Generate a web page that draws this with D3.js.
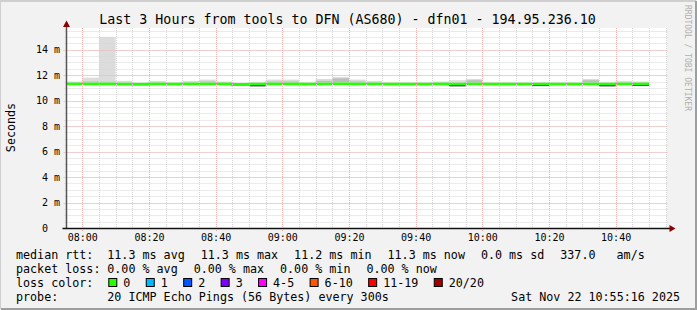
<!DOCTYPE html>
<html>
<head>
<meta charset="utf-8">
<script src="https://cdn.jsdelivr.net/npm/d3@7"></script>
<style>
body { margin: 0; background: #f2f2f2; }
text { font-family: "DejaVu Sans Mono", monospace; fill: #000; }
</style>
</head>
<body>
<div id="chart"></div>
<script>
var W = 697, H = 310;
var plotL = 66.5, plotR = 666.5, plotT = 28, plotB = 228;
var svg, plot, x, y;

var titleText = "Last 3 Hours from tools to DFN (AS680) - dfn01 - 194.95.236.10";
var rangeStart = "2025-11-22 07:55:16", rangeEnd = "2025-11-22 10:55:16";

// start of each 5 minute slot
var slotStart = ["07:55","08:00","08:05","08:10","08:15","08:20","08:25","08:30","08:35","08:40",
  "08:45","08:50","08:55","09:00","09:05","09:10","09:15","09:20","09:25","09:30",
  "09:35","09:40","09:45","09:50","09:55","10:00","10:05","10:10","10:15","10:20",
  "10:25","10:30","10:35","10:40","10:45"];
// median rtt (ms)
var medianRtt = [11.32,11.32,11.32,11.30,11.28,11.32,11.30,11.32,11.32,11.32,
  11.27,11.30,11.32,11.32,11.30,11.32,11.34,11.32,11.32,11.30,
  11.30,11.30,11.32,11.30,11.32,11.30,11.30,11.30,11.30,11.30,
  11.30,11.32,11.30,11.32,11.32];
// top of the smoke (ms)
var maxRtt = [11.50,11.80,15.00,11.55,11.40,11.55,11.40,11.55,11.65,11.50,
  11.38,11.40,11.65,11.65,11.42,11.70,11.85,11.65,11.55,11.40,
  11.40,11.40,11.50,11.60,11.70,11.42,11.40,11.40,11.42,11.40,
  11.40,11.70,11.40,11.55,11.50];
// top of the denser smoke (ms)
var innerRtt = [11.32,11.50,11.48,11.30,11.28,11.32,11.30,11.32,11.50,11.32,
  11.27,11.30,11.50,11.50,11.30,11.55,11.75,11.50,11.32,11.30,
  11.30,11.30,11.32,11.30,11.60,11.30,11.30,11.30,11.30,11.30,
  11.30,11.60,11.30,11.32,11.32];
// bottom of the dark core under the median (ms)
var lowRtt = [11.32,11.32,11.32,11.25,11.28,11.32,11.30,11.32,11.32,11.32,
  11.27,11.12,11.32,11.32,11.30,11.32,11.34,11.32,11.32,11.30,
  11.30,11.30,11.32,11.12,11.32,11.30,11.30,11.30,11.14,11.30,
  11.30,11.32,11.12,11.32,11.16];
// lost pings per slot
var lossCount = [0,0,0,0,0,0,0,0,0,0,0,0,0,0,0,0,0,0,0,0,0,0,0,0,0,0,0,0,0,0,0,0,0,0,0];

var yTicks = [0, 2, 4, 6, 8, 10, 12, 14];
var xTicks = ["08:00","08:20","08:40","09:00","09:20","09:40","10:00","10:20","10:40"];

var lossLabels = ["0","1","2","3","4-5","6-10","11-19","20/20"];
var lossColors = ["#26ff00","#00b8ff","#0059ff","#7e00ff","#ff00ff","#ff5500","#ff0000","#a10000"];

var rttStats = ["11.3 ms avg","11.3 ms max","11.2 ms min","11.3 ms now","0.0 ms sd","337.0   am/s"];
var lossStats = ["0.00 % avg","0.00 % max","0.00 % min","0.00 % now"];
var probeText = "20 ICMP Echo Pings (56 Bytes) every 300s";
var stampText = "Sat Nov 22 10:55:16 2025";

var parseFull = d3.timeParse("%Y-%m-%d %H:%M:%S");
var parseHM = function(s) { return parseFull("2025-11-22 " + s + ":00"); };

function setup() {
  svg = d3.select("#chart").append("svg")
    .attr("width", W).attr("height", H);
  // background and shaded frame
  svg.append("rect").attr("width", W).attr("height", H).attr("fill", "#f2f2f2");
  svg.append("path").attr("d", "M0,309 L0,1 L696,1").attr("fill", "none")
    .attr("stroke", "#cfcfcf").attr("stroke-width", 2);
  svg.append("path").attr("d", "M1,309 L696,309 L696,1").attr("fill", "none")
    .attr("stroke", "#9e9e9e").attr("stroke-width", 2);

  x = d3.scaleTime().domain([parseFull(rangeStart), parseFull(rangeEnd)]).range([plotL, plotR]);
  y = d3.scaleLinear().domain([0, 15.7]).range([plotB, plotT]);

  svg.append("rect").attr("x", plotL).attr("y", plotT)
    .attr("width", plotR - plotL).attr("height", plotB - plotT).attr("fill", "#fff");
  svg.append("clipPath").attr("id", "clip").append("rect")
    .attr("x", plotL).attr("y", plotT).attr("width", plotR - plotL).attr("height", plotB - plotT);
  plot = svg.append("g").attr("clip-path", "url(#clip)");
}

function drawSmoke() {
  var rows = slotStart.map(function(s, i) {
    var t0 = parseHM(s);
    return { x0: x(t0), x1: x(d3.timeMinute.offset(t0, 5)), med: medianRtt[i],
             max: maxRtt[i], inner: innerRtt[i], low: lowRtt[i] };
  });
  plot.selectAll("rect.smoke").data(rows).enter().append("rect")
    .attr("x", function(d) { return d.x0; })
    .attr("width", function(d) { return d.x1 - d.x0; })
    .attr("y", function(d) { return y(d.max); })
    .attr("height", function(d) { return y(d.med) - y(d.max); })
    .attr("fill", "#dcdcdc");
  plot.selectAll("rect.inner").data(rows).enter().append("rect")
    .attr("x", function(d) { return d.x0; })
    .attr("width", function(d) { return d.x1 - d.x0; })
    .attr("y", function(d) { return y(d.inner); })
    .attr("height", function(d) { return Math.max(0, y(d.med) - y(d.inner)); })
    .attr("fill", "#bdbdbd");
  plot.selectAll("rect.core").data(rows).enter().append("rect")
    .attr("x", function(d) { return d.x0; })
    .attr("width", function(d) { return d.x1 - d.x0; })
    .attr("y", function(d) { return y(d.med); })
    .attr("height", function(d) { return Math.max(0, y(d.low) - y(d.med)); })
    .attr("fill", "#1e1e1e");
  return rows;
}

function drawGrid() {
  var g = svg.append("g").attr("fill", "none").attr("stroke-dasharray", "1,1");
  var minorT = x.ticks(d3.timeMinute.every(5));
  var minorV = d3.range(0, 15.7, 0.5);
  g.selectAll("line.vmin").data(minorT).enter().append("line")
    .attr("x1", function(d) { return Math.round(x(d)) + 0.5; })
    .attr("x2", function(d) { return Math.round(x(d)) + 0.5; })
    .attr("y1", plotT).attr("y2", plotB + 2).attr("stroke", "#d6d6d6");
  g.selectAll("line.hmin").data(minorV).enter().append("line")
    .attr("y1", function(d) { return Math.round(y(d)) + 0.5; })
    .attr("y2", function(d) { return Math.round(y(d)) + 0.5; })
    .attr("x1", plotL - 2).attr("x2", plotR + 1).attr("stroke", "#d6d6d6");
  g.selectAll("line.vmaj").data(xTicks.map(parseHM)).enter().append("line")
    .attr("x1", function(d) { return Math.round(x(d)) + 0.5; })
    .attr("x2", function(d) { return Math.round(x(d)) + 0.5; })
    .attr("y1", plotT).attr("y2", plotB + 3).attr("stroke", "#f4b2b2");
  g.selectAll("line.hmaj").data(yTicks).enter().append("line")
    .attr("y1", function(d) { return Math.round(y(d)) + 0.5; })
    .attr("y2", function(d) { return Math.round(y(d)) + 0.5; })
    .attr("x1", plotL - 3).attr("x2", plotR + 1).attr("stroke", "#f4b2b2");
}

function drawMedian(rows) {
  var pts = rows.map(function(d) { return [d.x0, y(d.med)]; });
  var last = rows[rows.length - 1];
  pts.push([last.x1, y(last.med)]);
  plot.append("path").datum(pts)
    .attr("d", d3.line().curve(d3.curveStepAfter))
    .attr("fill", "none")
    .attr("stroke", lossColors[d3.max(lossCount)])
    .attr("stroke-width", 3);
}

function drawAxes() {
  // x labels
  var xa = svg.append("g").attr("transform", "translate(0," + plotB + ")")
    .call(d3.axisBottom(x).tickValues(xTicks.map(parseHM))
      .tickFormat(d3.timeFormat("%H:%M")).tickSize(0).tickPadding(6.3));
  xa.select(".domain").remove();
  xa.selectAll("text").style("font-family", "DejaVu Sans Mono").style("font-size", "10px").attr("fill", "#000");
  // y labels
  var ya = svg.append("g").attr("transform", "translate(60," + 0 + ")")
    .call(d3.axisLeft(y).tickValues(yTicks)
      .tickFormat(function(d) { return d ? d + " m" : "0  "; }).tickSize(0).tickPadding(0));
  ya.select(".domain").remove();
  ya.selectAll("text").style("font-family", "DejaVu Sans Mono").style("font-size", "10px")
    .style("white-space", "pre").attr("fill", "#000");

  // axis lines and arrows
  svg.append("line").attr("x1", plotL).attr("x2", plotL).attr("y1", plotB).attr("y2", 24)
    .attr("stroke", "#555").attr("stroke-width", 1.5);
  svg.append("line").attr("x1", plotL - 4).attr("x2", plotR + 5).attr("y1", plotB + 0.5).attr("y2", plotB + 0.5)
    .attr("stroke", "#111").attr("stroke-width", 1.5);
  svg.append("path").attr("d", "M" + (plotL - 3.5) + ",27 L" + plotL + ",20.5 L" + (plotL + 3.5) + ",27 Z")
    .attr("fill", "#8b0000");
  svg.append("path").attr("d", "M" + (plotR + 3) + "," + (plotB - 3) + " L" + (plotR + 9) + "," + (plotB + 0.5) +
      " L" + (plotR + 3) + "," + (plotB + 4) + " Z")
    .attr("fill", "#8b0000");
}

function drawTexts() {
  svg.append("text").attr("x", 347.5).attr("y", 24).attr("text-anchor", "middle")
    .style("font-size", "13.3px").text(titleText);
  svg.append("text").attr("transform", "translate(14.5,127.5) rotate(-90)")
    .attr("text-anchor", "middle").style("font-size", "11.7px").text("Seconds");
  svg.append("text").attr("transform", "translate(685,5) rotate(90)")
    .style("font-size", "8px").attr("fill", "#b0b0b0").style("fill", "#b0b0b0")
    .text("RRDTOOL / TOBI OETIKER");
}

function legendRow(yb, label, items) {
  svg.append("text").attr("x", 16).attr("y", yb).style("font-size", "11.7px")
    .style("white-space", "pre").text(label);
  var xp = 107.3;
  items.forEach(function(s) {
    var t = svg.append("text").attr("x", xp).attr("y", yb).style("font-size", "11.7px")
      .style("white-space", "pre").text(s);
    xp += t.node().getComputedTextLength() + 16;
  });
}

function drawLegend() {
  legendRow(258.5, "median rtt:", rttStats);
  legendRow(272.5, "packet loss:", lossStats);
  svg.append("text").attr("x", 16).attr("y", 286.5).style("font-size", "11.7px").text("loss color:");
  var xp = 108.3;
  lossLabels.forEach(function(s, i) {
    svg.append("rect").attr("x", xp + 0.5).attr("y", 278.5).attr("width", 8).attr("height", 8)
      .attr("fill", lossColors[i]).attr("stroke", "#000").attr("stroke-width", 1);
    var t = svg.append("text").attr("x", xp + 15).attr("y", 286.5).style("font-size", "11.7px").text(s);
    xp += 15 + t.node().getComputedTextLength() + 15.4;
  });
  svg.append("text").attr("x", 16).attr("y", 300.5).style("font-size", "11.7px").text("probe:");
  svg.append("text").attr("x", 107.3).attr("y", 300.5).style("font-size", "11.7px").text(probeText);
  svg.append("text").attr("x", 680).attr("y", 300.5).attr("text-anchor", "end")
    .style("font-size", "11.7px").text(stampText);
}

setup();
var rows = drawSmoke();
drawGrid();
drawMedian(rows);
drawAxes();
drawTexts();
drawLegend();
</script>
</body>
</html>
